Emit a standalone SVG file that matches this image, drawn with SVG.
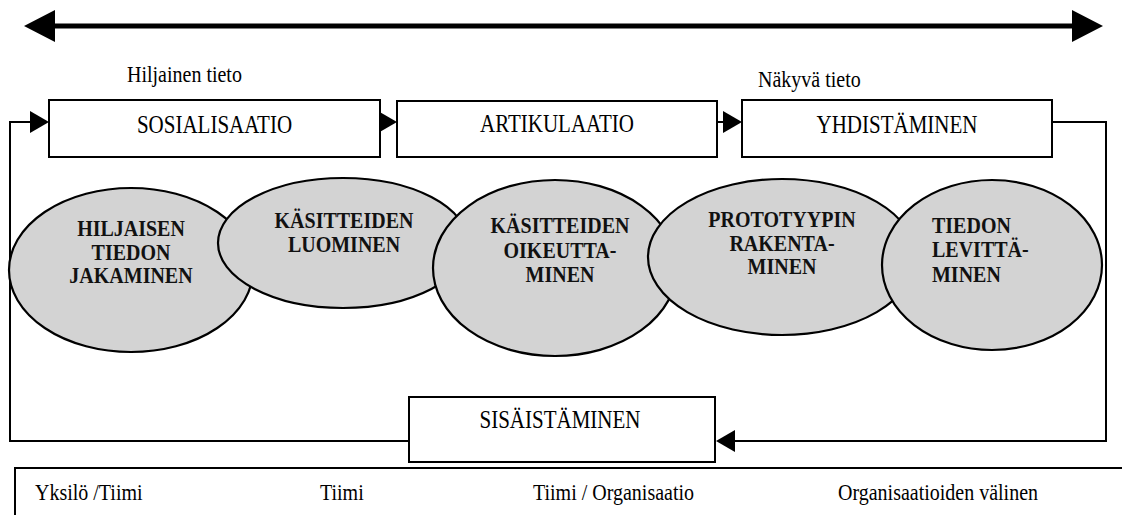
<svg xmlns="http://www.w3.org/2000/svg" width="1122" height="515" viewBox="0 0 1122 515">
  <style>
    .box { fill: #ffffff; stroke: #000000; stroke-width: 2; }
    .ell { fill: #d3d3d3; stroke: #000000; stroke-width: 2.2; }
    .conn { fill: none; stroke: #000000; stroke-width: 2; }
    .big { fill: none; stroke: #000000; stroke-width: 5; }
    .bt { font-family: "Liberation Serif", "Times New Roman", serif; font-size: 21px; fill: #000; text-anchor: middle; }
    .et { font-family: "Liberation Serif", "Times New Roman", serif; font-size: 20px; font-weight: bold; fill: #111; text-anchor: middle; }
    .lt { font-family: "Liberation Serif", "Times New Roman", serif; font-size: 20px; fill: #000; }
  </style>
  <defs>
    <marker id="bigHead" markerUnits="userSpaceOnUse" markerWidth="31" markerHeight="32" viewBox="0 0 31 32" refX="0" refY="16" orient="auto-start-reverse">
      <path d="M0,0 L31,16 L0,32 z" fill="#000"/>
    </marker>
    <marker id="head" markerUnits="userSpaceOnUse" markerWidth="19" markerHeight="22" viewBox="0 0 19 22" refX="0" refY="11" orient="auto">
      <path d="M0,0 L19,11 L0,22 z" fill="#000"/>
    </marker>
  </defs>

  <rect width="1122" height="515" fill="#ffffff"/>

  <g id="connectors">
    <path class="big" d="M55,26 H1072" marker-start="url(#bigHead)" marker-end="url(#bigHead)"/>
    <path class="conn" d="M357,122 H378" marker-end="url(#head)"/>
    <path class="conn" d="M702,122 H723" marker-end="url(#head)"/>
    <path class="conn" d="M409,441 H10 V122 H30" marker-end="url(#head)"/>
    <path class="conn" d="M1052,122 H1106 V441 H735" marker-end="url(#head)"/>
    <path class="conn" d="M15,515 V468 H1122"/>
  </g>

  <g id="label-hiljainen"><text class="lt" transform="matrix(1 0 0 1.2 127 82)">Hiljainen tieto</text></g>
  <g id="label-nakyva"><text class="lt" transform="matrix(1 0 0 1.2 758 87)">Näkyvä tieto</text></g>

  <g id="box-sosialisaatio">
    <rect class="box" x="49" y="100" width="331" height="57"/>
    <text class="bt" transform="matrix(1 0 0 1.2 214.5 133)">SOSIALISAATIO</text>
  </g>
  <g id="box-artikulaatio">
    <rect class="box" x="397" y="101" width="320" height="56"/>
    <text class="bt" transform="matrix(1 0 0 1.2 557 132)">ARTIKULAATIO</text>
  </g>
  <g id="box-yhdistaminen">
    <rect class="box" x="742" y="100" width="310" height="57"/>
    <text class="bt" transform="matrix(1 0 0 1.2 897 133)">YHDISTÄMINEN</text>
  </g>
  <g id="box-sisaistaminen">
    <rect class="box" x="409" y="397" width="306" height="65"/>
    <text class="bt" transform="matrix(1 0 0 1.2 560 428)">SISÄISTÄMINEN</text>
  </g>

  <g id="ellipse-1">
    <ellipse class="ell" cx="131" cy="270" rx="122" ry="82"/>
    <text class="et" transform="matrix(1 0 0 1.2 131 236)">HILJAISEN</text>
    <text class="et" transform="matrix(1 0 0 1.2 131 260)">TIEDON</text>
    <text class="et" transform="matrix(1 0 0 1.2 131 283)">JAKAMINEN</text>
  </g>
  <g id="ellipse-2">
    <ellipse class="ell" cx="343" cy="243" rx="125" ry="65"/>
    <text class="et" transform="matrix(1 0 0 1.2 344 228)">KÄSITTEIDEN</text>
    <text class="et" transform="matrix(1 0 0 1.2 344 252)">LUOMINEN</text>
  </g>
  <g id="ellipse-3">
    <ellipse class="ell" cx="555" cy="268" rx="122" ry="88"/>
    <text class="et" transform="matrix(1 0 0 1.2 560 233)">KÄSITTEIDEN</text>
    <text class="et" transform="matrix(1 0 0 1.2 560 258)">OIKEUTTA-</text>
    <text class="et" transform="matrix(1 0 0 1.2 560 282)">MINEN</text>
  </g>
  <g id="ellipse-4">
    <ellipse class="ell" cx="782" cy="257" rx="134" ry="78"/>
    <text class="et" transform="matrix(1 0 0 1.2 782 227)">PROTOTYYPIN</text>
    <text class="et" transform="matrix(1 0 0 1.2 782 251)">RAKENTA-</text>
    <text class="et" transform="matrix(1 0 0 1.2 782 274)">MINEN</text>
  </g>
  <g id="ellipse-5">
    <ellipse class="ell" cx="992" cy="265" rx="110" ry="85"/>
    <text class="et" transform="matrix(1 0 0 1.2 932 233)" style="text-anchor:start">TIEDON</text>
    <text class="et" transform="matrix(1 0 0 1.2 932 257)" style="text-anchor:start">LEVITTÄ-</text>
    <text class="et" transform="matrix(1 0 0 1.2 932 282)" style="text-anchor:start">MINEN</text>
  </g>

  <g id="levels">
    <text class="lt" transform="matrix(1 0 0 1.2 35 500)">Yksilö /Tiimi</text>
    <text class="lt" transform="matrix(1 0 0 1.2 320 500)">Tiimi</text>
    <text class="lt" transform="matrix(1 0 0 1.2 533 500)">Tiimi / Organisaatio</text>
    <text class="lt" transform="matrix(1 0 0 1.2 838 500)">Organisaatioiden välinen</text>
  </g>
</svg>
